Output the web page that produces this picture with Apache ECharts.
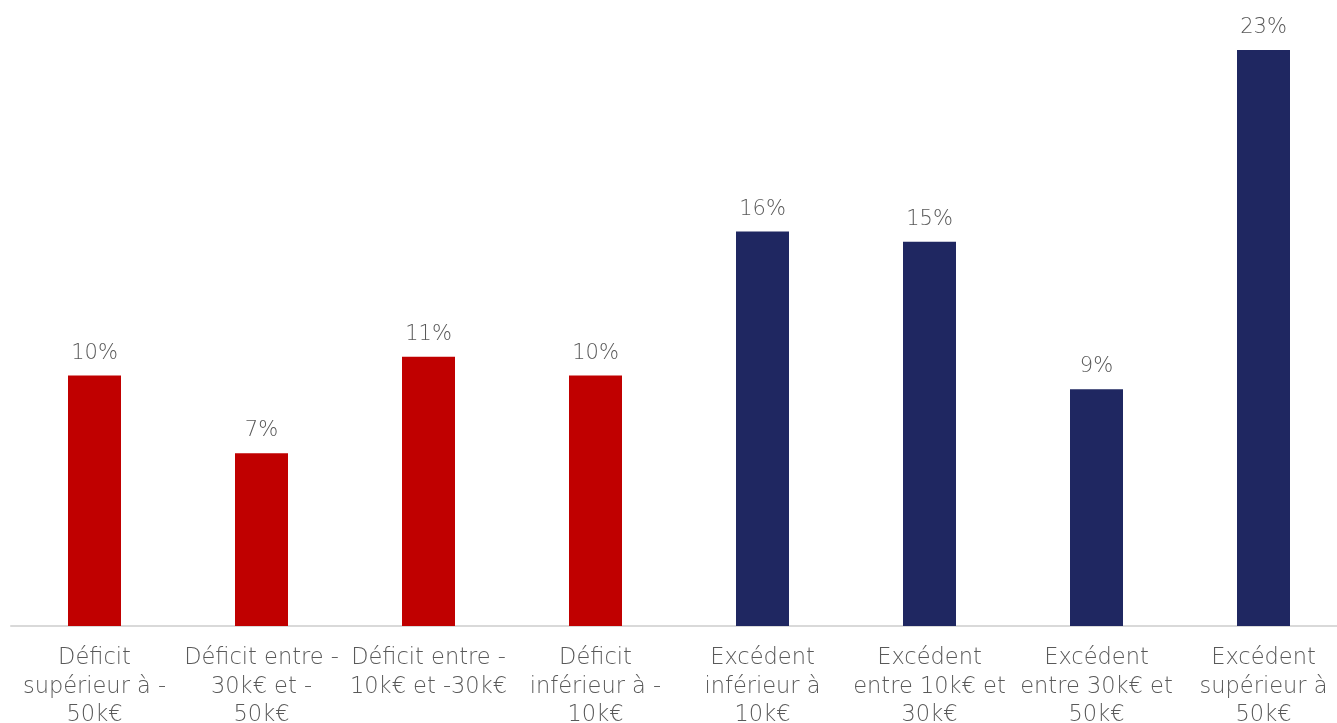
<!DOCTYPE html>
<html>
<head>
<meta charset="utf-8">
<script src="https://cdn.jsdelivr.net/npm/echarts@6/dist/echarts.min.js"></script>
<style>
html,body{margin:0;padding:0;background:#fff;}
#chart{width:1337px;height:723px;}
</style>
</head>
<body>
<div id="chart"></div>
<script>
var categories = [
  "Déficit\nsupérieur à -\n50k€",
  "Déficit entre -\n30k€ et -\n50k€",
  "Déficit entre -\n10k€ et -30k€",
  "Déficit\ninférieur à -\n10k€",
  "Excédent\ninférieur à\n10k€",
  "Excédent\nentre 10k€ et\n30k€",
  "Excédent\nentre 30k€ et\n50k€",
  "Excédent\nsupérieur à\n50k€"
];
var values = [10.0, 6.9, 10.75, 10.0, 15.75, 15.35, 9.45, 23.0];
var barColors = ["#C00000", "#C00000", "#C00000", "#C00000", "#1F2761", "#1F2761", "#1F2761", "#1F2761"];

var chart = echarts.init(document.getElementById('chart'));
chart.setOption({
  animation: false,
  grid: {left: 11, width: 1336, top: 0, height: 626, containLabel: false, outerBoundsMode: 'none'},
  xAxis: {
    type: 'category',
    data: categories,
    axisLine: {lineStyle: {color: '#D9D9D9', width: 2}},
    axisTick: {show: false},
    axisLabel: {
      interval: 0,
      color: '#595959',
      fontFamily: 'DejaVu Sans',
      fontWeight: 200,
      fontSize: 22.5,
      lineHeight: 28.5,
      margin: 18
    }
  },
  yAxis: {
    type: 'value',
    min: 0,
    max: 25,
    show: false,
    splitLine: {show: false}
  },
  series: [{
    type: 'bar',
    barWidth: 53,
    data: values.map(function (v, i) {
      return {value: v, itemStyle: {color: barColors[i]}};
    }),
    label: {
      show: true,
      position: 'top',
      distance: 12,
      color: '#595959',
      fontFamily: 'DejaVu Sans',
      fontWeight: 200,
      fontSize: 21,
      formatter: function (p) { return Math.round(p.value) + '%'; }
    }
  }]
});
</script>
</body>
</html>
